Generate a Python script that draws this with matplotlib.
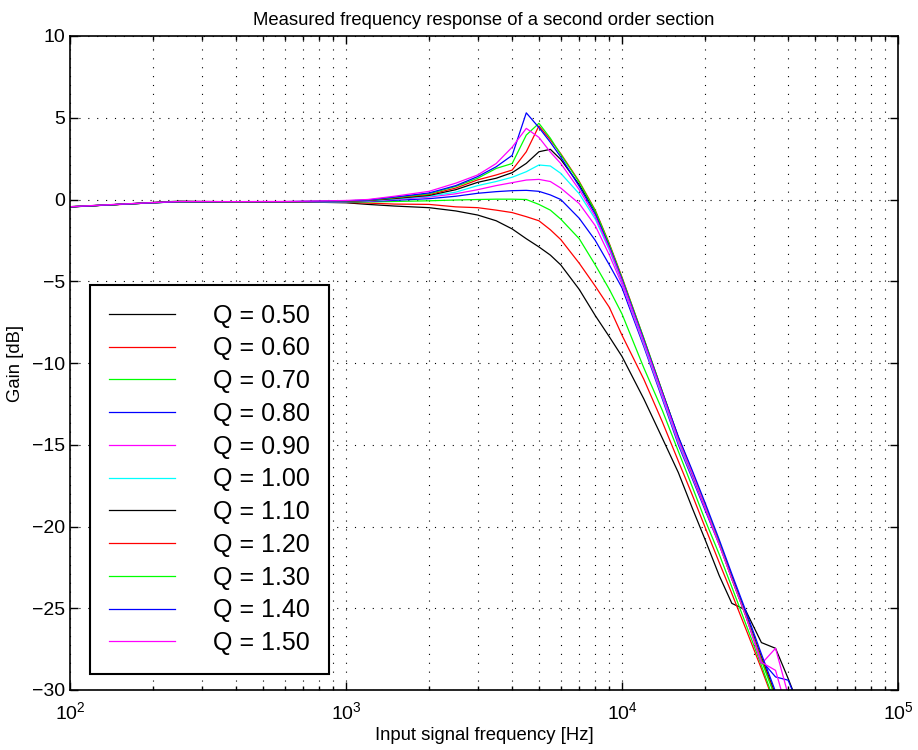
import matplotlib
matplotlib.use("Agg")
import matplotlib.pyplot as plt
from matplotlib.ticker import LogLocator, MultipleLocator, NullFormatter

plt.rcParams['font.family'] = ['Liberation Sans', 'DejaVu Sans']

# measurement frequencies [Hz]
freq = [100, 150, 200, 250, 300, 400, 500, 600, 800, 1000, 1200, 1500, 2000, 2500,
        3000, 3500, 4000, 4500, 5000, 5500, 6000, 7000, 8000, 9000, 10000, 12000,
        14000, 16000, 18000, 20000, 22500, 25000, 28000, 32000, 36000, 40000, 45000]

# measured gain [dB] for each Q setting
gain_q050 = [-0.46, -0.3, -0.18, -0.1, -0.12, -0.14, -0.14, -0.15, -0.17, -0.2, -0.3, -0.4, -0.5, -0.7,
             -0.95, -1.3, -1.8, -2.4, -2.9, -3.4, -4.0, -5.5, -7.1, -8.4, -9.6, -12.2,
             -14.6, -16.7, -18.9, -20.8, -23.0, -24.7, -25.1, -27.1, -27.45, -29.3, -31.5]
gain_q060 = [-0.45, -0.31, -0.2, -0.13, -0.14, -0.15, -0.15, -0.16, -0.17, -0.18, -0.22, -0.28, -0.3, -0.45,
             -0.5, -0.65, -0.8, -1.05, -1.3, -1.85, -2.45, -3.9, -5.3, -6.6, -8.3, -11.0,
             -13.6, -16.0, -18.1, -20.05, -22.2, -24.1, -26.2, -28.7, -31.0, -33.0, -35.0]
gain_q070 = [-0.44, -0.3, -0.2, -0.14, -0.15, -0.16, -0.15, -0.15, -0.16, -0.16, -0.15, -0.12, -0.08, -0.03,
             0.0, 0.02, 0.02, 0.0, -0.3, -0.65, -1.2, -2.4, -4.0, -5.5, -7.0, -10.3,
             -12.9, -15.4, -17.6, -19.6, -21.7, -23.7, -25.9, -28.5, -30.9, -33.0, -35.0]
gain_q080 = [-0.45, -0.3, -0.2, -0.14, -0.15, -0.16, -0.16, -0.16, -0.15, -0.14, -0.12, -0.05, 0.05, 0.2,
             0.38, 0.48, 0.54, 0.56, 0.5, 0.28, 0.0, -1.15, -2.5, -4.0, -5.4, -9.0,
             -12.2, -15.0, -17.1, -19.0, -21.1, -23.1, -25.3, -28.2, -29.2, -29.4, -31.5]
gain_q090 = [-0.44, -0.29, -0.19, -0.13, -0.14, -0.15, -0.15, -0.15, -0.14, -0.13, -0.1, 0.0, 0.15, 0.35,
             0.6, 0.85, 1.03, 1.19, 1.23, 1.1, 0.7, -0.25, -1.6, -3.4, -5.2, -8.9,
             -12.1, -14.9, -17.0, -18.9, -21.1, -23.2, -25.4, -28.4, -27.45, -30.3, -33.0]
gain_q100 = [-0.45, -0.3, -0.2, -0.14, -0.14, -0.15, -0.15, -0.15, -0.14, -0.12, -0.08, 0.03, 0.2, 0.45,
             0.85, 1.1, 1.36, 1.7, 2.11, 2.05, 1.6, 0.35, -1.2, -3.1, -5.05, -8.8,
             -12.0, -14.8, -16.9, -18.8, -21.0, -23.1, -25.3, -28.0, -30.3, -32.5, -35.0]
gain_q110 = [-0.45, -0.3, -0.19, -0.13, -0.14, -0.15, -0.14, -0.14, -0.13, -0.11, -0.06, 0.06, 0.25, 0.6,
             1.05, 1.3, 1.64, 2.21, 2.92, 3.07, 2.45, 0.9, -0.75, -2.8, -4.85, -8.6,
             -11.8, -14.6, -16.8, -18.75, -21.0, -23.1, -25.3, -28.0, -30.3, -32.5, -35.0]
gain_q120 = [-0.45, -0.3, -0.2, -0.13, -0.13, -0.14, -0.14, -0.14, -0.12, -0.1, -0.05, 0.1, 0.3, 0.7,
             1.2, 1.5, 1.8, 2.92, 4.5, 3.65, 2.8, 1.1, -0.65, -2.7, -4.75, -8.5,
             -11.75, -14.55, -16.7, -18.7, -21.0, -23.2, -25.4, -28.1, -30.4, -32.5, -35.0]
gain_q130 = [-0.44, -0.3, -0.2, -0.13, -0.13, -0.14, -0.13, -0.13, -0.11, -0.09, -0.04, 0.12, 0.35, 0.8,
             1.3, 1.9, 2.2, 3.94, 4.66, 3.75, 2.75, 1.05, -0.7, -2.75, -4.8, -8.5,
             -11.75, -14.55, -16.7, -18.7, -21.0, -23.2, -25.4, -28.2, -30.5, -32.5, -35.0]
gain_q140 = [-0.45, -0.3, -0.2, -0.13, -0.13, -0.13, -0.13, -0.13, -0.1, -0.08, -0.03, 0.15, 0.4, 0.85,
             1.4, 2.0, 2.7, 5.3, 4.4, 3.5, 2.6, 0.8, -0.9, -2.9, -4.9, -8.6,
             -11.8, -14.5, -16.6, -18.55, -20.8, -22.9, -25.1, -27.8, -30.1, -32.3, -35.0]
gain_q150 = [-0.44, -0.29, -0.19, -0.12, -0.12, -0.13, -0.12, -0.12, -0.09, -0.06, 0.0, 0.2, 0.5, 1.0,
             1.5, 2.2, 3.2, 4.35, 3.8, 2.9, 2.2, 0.6, -1.05, -3.0, -5.0, -8.7,
             -11.9, -14.7, -16.8, -18.8, -21.1, -23.2, -25.4, -28.3, -28.8, -31.5, -34.0]

q_values = [0.5, 0.6, 0.7, 0.8, 0.9, 1.0, 1.1, 1.2, 1.3, 1.4, 1.5]
gains = [gain_q050, gain_q060, gain_q070, gain_q080, gain_q090, gain_q100,
         gain_q110, gain_q120, gain_q130, gain_q140, gain_q150]
colors = ['#000000', '#ff0000', '#00ff00', '#0000ff', '#ff00ff', '#00ffff']

fig = plt.figure(figsize=(9.18, 7.5), dpi=100)
ax = fig.add_axes([70 / 918, 60 / 750, 828 / 918, 654 / 750])

for i, (q, g) in enumerate(zip(q_values, gains)):
    ax.semilogx(freq, g, color=colors[i % len(colors)], linewidth=0.9,
                label='Q = %.2f' % q)

ax.set_xlim(1e2, 1e5)
ax.set_ylim(-30, 10)
ax.yaxis.set_major_locator(MultipleLocator(5))
ax.xaxis.set_major_locator(LogLocator(base=10, numticks=10))
ax.xaxis.set_minor_locator(LogLocator(base=10, subs=range(2, 10), numticks=20))
ax.xaxis.set_minor_formatter(NullFormatter())

# matlab-ish look
ax.grid(True, which='major', linestyle=(0, (1, 7)), color='black', linewidth=0.8)
ax.grid(True, which='minor', axis='x', linestyle=(0, (1, 7)), color='black', linewidth=0.8)
ax.tick_params(which='both', direction='in', top=True, right=True, labelsize=14, width=1)
ax.tick_params(which='major', length=6)
ax.tick_params(which='minor', length=3)
ax.tick_params(axis='x', which='major', pad=8)
for sp in ax.spines.values():
    sp.set_linewidth(1.2)

ax.set_title('Measured frequency response of a second order section', fontsize=13.3, pad=8)
ax.set_xlabel('Input signal frequency [Hz]', fontsize=13.3, labelpad=3)
ax.set_ylabel('Gain [dB]', fontsize=13.3, labelpad=6)

leg = ax.legend(loc='lower left', bbox_to_anchor=(0.024, 0.0245), borderaxespad=0,
                fontsize=18, handlelength=2.64, handletextpad=1.55, labelspacing=0.35,
                borderpad=0.75, fancybox=False, framealpha=1, edgecolor='black')
leg.get_frame().set_linewidth(1.5)

fig.savefig('out.png', dpi=100)
